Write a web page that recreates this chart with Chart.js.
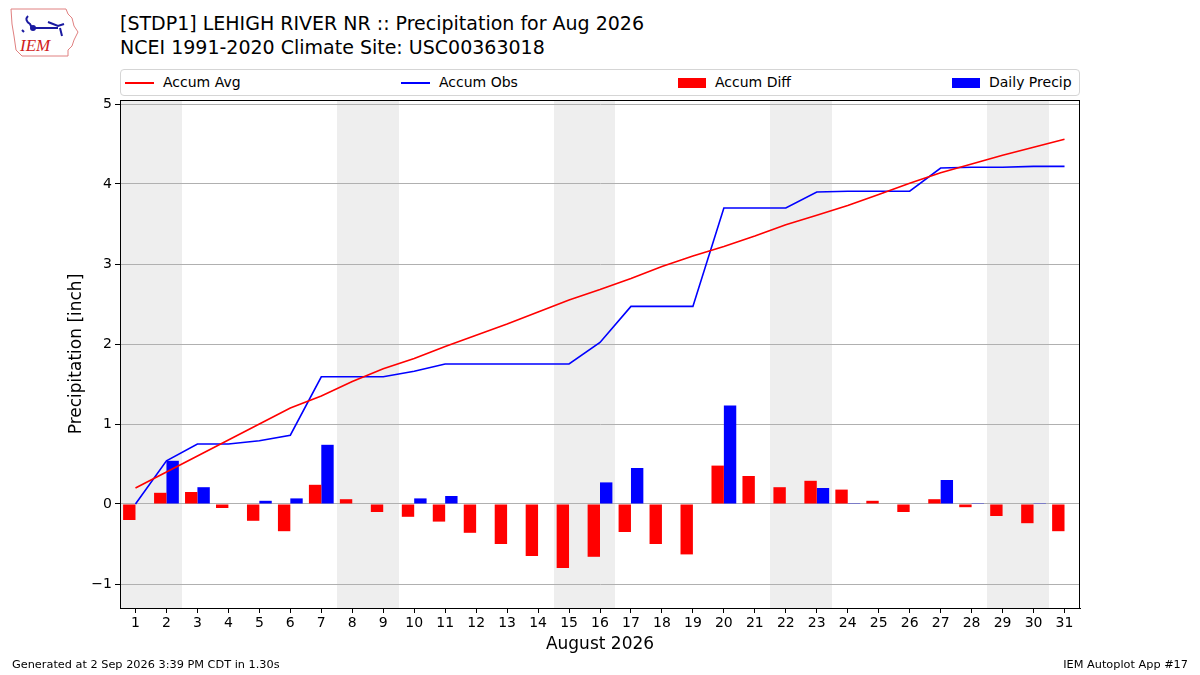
<!DOCTYPE html>
<html>
<head>
<meta charset="utf-8">
<script src="https://cdn.jsdelivr.net/npm/chart.js@4"></script>
<style>
  html, body { margin: 0; padding: 0; background: #fff; }
  body { width: 1200px; height: 675px; position: relative; overflow: hidden;
         font-family: "DejaVu Sans", sans-serif; color: #000; }
  #wrap { position: absolute; left: 0; top: 0; width: 1200px; height: 675px; }
  .title { position: absolute; left: 120px; font-size: 19px; white-space: nowrap; }
  .foot { position: absolute; top: 658px; font-size: 11.3px; white-space: nowrap; }
  #legend { position: absolute; left: 120px; top: 69px; width: 958px; height: 25px;
            border: 1px solid #d5d5d5; border-radius: 4px; background: #fff; }
  .item { position: absolute; top: 4px; font-size: 14px; white-space: nowrap; line-height: 16px; }
  .item i { display: inline-block; vertical-align: middle; margin-right: 9px; }
  .ln { width: 29px; height: 2px; }
  .bx { width: 28px; height: 10px; }
  #logo { position: absolute; left: 8px; top: 6px; }
</style>
</head>
<body>
<svg id="logo" width="72" height="52" viewBox="0 0 72 52">
  <path d="M3 3 L58 3 L60 8 L64 12 L66 20 L70 26 L66 34 L64 40 L60 44 L60 50 L14 50 L8 44 L6 30 L4 18 Z"
        fill="none" stroke="#e08080" stroke-width="1"/>
  <path d="M20 10 Q16 14 22 18 L24 22 L50 22 M40 16 L50 20 L56 18 M52 22 L54 30 M14 24 L16 26"
        fill="none" stroke="#1a1aa0" stroke-width="2"/>
  <circle cx="25" cy="22" r="3" fill="#1a1aa0"/>
  <text x="12" y="45" font-family="Liberation Serif, serif" font-style="italic" font-size="17" fill="#d02020">IEM</text>
</svg>
<div class="title" style="top:12px">[STDP1] LEHIGH RIVER NR :: Precipitation for Aug 2026</div>
<div class="title" style="top:36px">NCEI 1991-2020 Climate Site: USC00363018</div>
<div id="legend">
  <div class="item" style="left:4px"><i class="ln" style="background:#ff0000"></i>Accum Avg</div>
  <div class="item" style="left:280px"><i class="ln" style="background:#0000ff"></i>Accum Obs</div>
  <div class="item" style="left:557px"><i class="bx" style="background:#ff0000"></i>Accum Diff</div>
  <div class="item" style="left:831px"><i class="bx" style="background:#0000ff"></i>Daily Precip</div>
</div>
<div id="wrap"><canvas id="chart" width="1200" height="675"></canvas></div>
<div class="foot" style="left:12px">Generated at 2 Sep 2026 3:39 PM CDT in 1.30s</div>
<div class="foot" style="right:12px">IEM Autoplot App #17</div>
<script>
var days = [];
for (var d = 1; d <= 31; d++) days.push(String(d));

var accumAvg = [0.20, 0.40, 0.60, 0.80, 1.00, 1.20, 1.35, 1.53, 1.69, 1.82, 1.97, 2.11, 2.25, 2.40, 2.55, 2.68,
                2.82, 2.97, 3.10, 3.22, 3.35, 3.49, 3.61, 3.73, 3.87, 4.01, 4.14, 4.25, 4.36, 4.46, 4.56];
var accumObs = [0.00, 0.54, 0.75, 0.75, 0.79, 0.86, 1.59, 1.59, 1.59, 1.66, 1.75, 1.75, 1.75, 1.75, 1.75, 2.02,
                2.47, 2.47, 2.47, 3.70, 3.70, 3.70, 3.90, 3.91, 3.91, 3.91, 4.20, 4.21, 4.21, 4.22, 4.22];
var accumDiff = [-0.20, 0.14, 0.15, -0.05, -0.21, -0.34, 0.24, 0.06, -0.10, -0.16, -0.22, -0.36, -0.50, -0.65, -0.80, -0.66,
                 -0.35, -0.50, -0.63, 0.48, 0.35, 0.21, 0.29, 0.18, 0.04, -0.10, 0.06, -0.04, -0.15, -0.24, -0.34];
var dailyPrecip = [0.00, 0.54, 0.21, 0.00, 0.04, 0.07, 0.74, 0.00, 0.00, 0.07, 0.10, 0.00, 0.00, 0.00, 0.00, 0.27,
                   0.45, 0.00, 0.00, 1.23, 0.00, 0.00, 0.20, 0.01, 0.00, 0.00, 0.30, 0.01, 0.00, 0.01, 0.00];
// weekend spans, first and last day
var weekends = [[1, 2], [8, 9], [15, 16], [22, 23], [29, 30]];
var yTicks = [-1, 0, 1, 2, 3, 4, 5];

// grey bands for weekends, drawn before the grid
var weekendPlugin = {
    id: 'weekends',
    beforeDraw: function (chart) {
        var ctx = chart.ctx, x = chart.scales.x, a = chart.chartArea;
        var half = (x.getPixelForValue(1) - x.getPixelForValue(0)) / 2;
        ctx.save();
        ctx.fillStyle = '#eeeeee';
        weekends.forEach(function (w) {
            var x0 = Math.round(x.getPixelForValue(w[0] - 1) - half);
            var x1 = Math.round(x.getPixelForValue(w[1] - 1) + half);
            ctx.fillRect(x0, a.top, x1 - x0, a.bottom - a.top);
        });
        ctx.restore();
    },
    afterDraw: function (chart) {
        var ctx = chart.ctx, a = chart.chartArea;
        ctx.save();
        ctx.strokeStyle = '#000';
        ctx.lineWidth = 1;
        ctx.strokeRect(a.left + 0.5, a.top + 0.5, a.right - a.left - 1, a.bottom - a.top);
        ctx.restore();
    }
};

Chart.defaults.font.family = '"DejaVu Sans", sans-serif';
Chart.defaults.color = '#000';

new Chart(document.getElementById('chart').getContext('2d'), {
    type: 'bar',
    data: {
        labels: days,
        datasets: [
            { type: 'line', label: 'Accum Avg', data: accumAvg, borderColor: '#ff0000', borderWidth: 1.6,
              pointRadius: 0, tension: 0, order: 0 },
            { type: 'line', label: 'Accum Obs', data: accumObs, borderColor: '#0000ff', borderWidth: 1.6,
              pointRadius: 0, tension: 0, order: 0 },
            { label: 'Accum Diff', data: accumDiff, backgroundColor: '#ff0000', order: 1,
              categoryPercentage: 0.8, barPercentage: 1.0 },
            { label: 'Daily Precip', data: dailyPrecip, backgroundColor: '#0000ff', order: 1,
              categoryPercentage: 0.8, barPercentage: 1.0 }
        ]
    },
    options: {
        responsive: false,
        animation: false,
        layout: { padding: { left: 62, top: 100, right: 120, bottom: 16 } },
        plugins: { legend: { display: false }, tooltip: { enabled: false } },
        scales: {
            x: {
                offset: true,
                grid: { drawOnChartArea: false, offset: false, tickLength: 5, tickColor: '#000' },
                border: { color: '#000' },
                ticks: { font: { size: 14 }, maxRotation: 0, autoSkip: false, padding: 2 },
                title: { display: true, text: 'August 2026', font: { size: 17 }, padding: { top: 2, bottom: 4 } },
                afterFit: function (s) { s.height = 51; }
            },
            y: {
                min: -1.3,
                max: 5.05,
                afterBuildTicks: function (s) { s.ticks = yTicks.map(function (v) { return { value: v }; }); },
                grid: { color: '#b0b0b0', lineWidth: 1, tickLength: 5, tickColor: '#000' },
                border: { color: '#000' },
                ticks: {
                    font: { size: 14 }, padding: 3,
                    callback: function (v) { return v < 0 ? '\u2212' + Math.abs(v) : String(v); }
                },
                title: { display: true, text: 'Precipitation [inch]', font: { size: 17 }, padding: 4 },
                afterFit: function (s) { s.width = 58; }
            }
        }
    },
    plugins: [weekendPlugin]
});
</script>
</body>
</html>
